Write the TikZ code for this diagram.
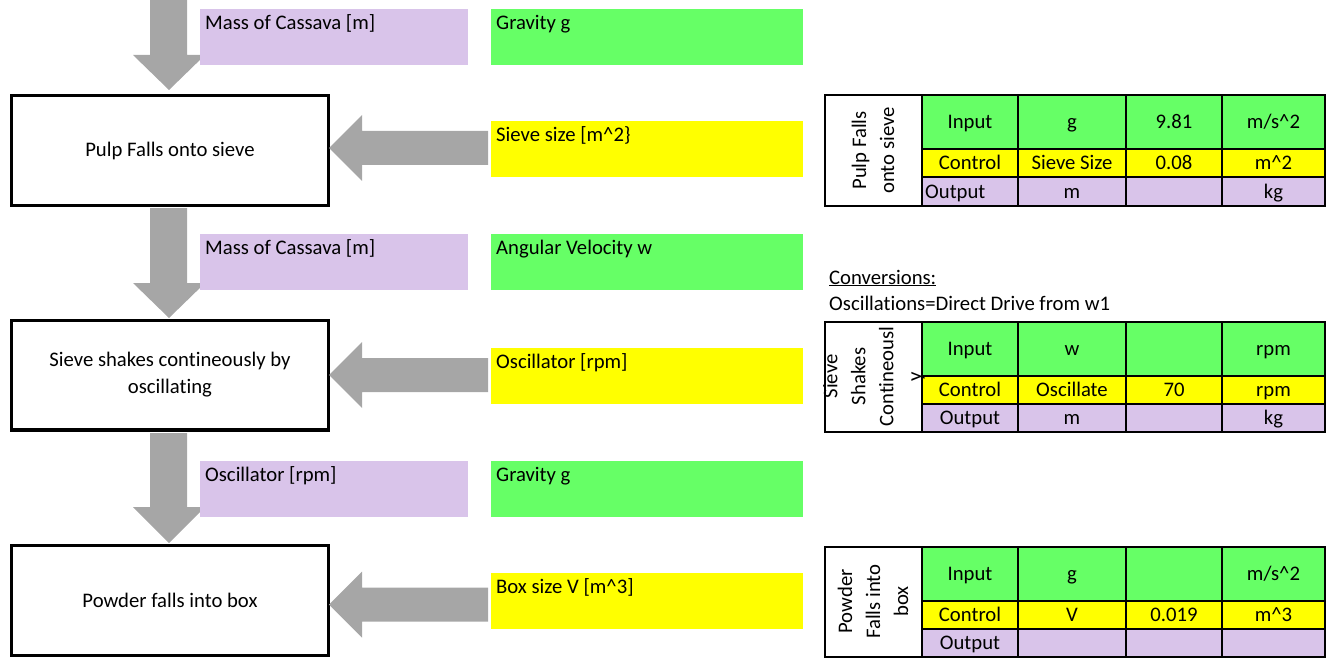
\documentclass[tikz,border=0pt]{standalone}
\usepackage{fontspec}
\setmainfont{Carlito}[Ligatures=NoCommon]
\definecolor{lav}{HTML}{D9C4EA}
\definecolor{grn}{HTML}{66FF66}
\definecolor{yel}{HTML}{FFFF00}
\definecolor{arrgray}{HTML}{A6A6A6}
\newcommand{\blockleft}[1]{%
  \fill[arrgray] (488,#1-17) -- (362,#1-17) -- (362,#1-33) -- (329,#1) -- (362,#1+33) -- (362,#1+17) -- (488,#1+17) -- cycle;}
\newcommand{\blockdown}[3]{%
  \fill[arrgray] (150,#1) -- (187,#1) -- (187,#2) -- (205,#2) -- (169,#3) -- (133,#2) -- (150,#2) -- cycle;}
\newcommand{\tgrid}[1]{%
  \fill[grn] (922,#1) rectangle (1325,#1+54);
  \fill[yel] (922,#1+54) rectangle (1325,#1+82);
  \fill[lav] (922,#1+82) rectangle (1325,#1+110);
  \draw[line width=2pt] (825,#1) rectangle (1325,#1+110);
  \draw[line width=2pt] (922,#1) -- (922,#1+110) (1018,#1) -- (1018,#1+110)
    (1126,#1) -- (1126,#1+110) (1222,#1) -- (1222,#1+110)
    (922,#1+54) -- (1325,#1+54) (922,#1+82) -- (1325,#1+82);}
\begin{document}
\begin{tikzpicture}[x=1pt,y=-1pt,font=\fontsize{20.7}{24}\selectfont,
  proc/.style={draw, line width=3.3pt, minimum width=316.7pt, minimum height=109.7pt,
    inner sep=0pt, outer sep=0pt, align=center, font=\fontsize{20.7}{27}\selectfont},
  lbox/.style={fill=lav, anchor=north west, inner sep=0pt, outer sep=0pt, minimum width=268pt, minimum height=56pt},
  gbox/.style={fill=grn, anchor=north west, inner sep=0pt, outer sep=0pt, minimum width=312pt, minimum height=56pt},
  ybox/.style={fill=yel, anchor=north west, inner sep=0pt, outer sep=0pt, minimum width=312pt, minimum height=56pt},
  btxt/.style={anchor=base west, inner sep=0pt},
  cell/.style={inner sep=0pt, text height=16pt, text depth=3pt},
  vlab/.style={rotate=90, align=center, inner sep=0pt, font=\fontsize{20.7}{28}\selectfont}]
\useasboundingbox (0,0) rectangle (1331,658);

% process boxes
\node[proc] (p1) at (170,150.5) {Pulp Falls onto sieve};
\node[proc] (p2) at (170,375) {Sieve shakes contineously by\\oscillating};
\node[proc] (p3) at (170,600.5) {Powder falls into box};

% block arrows
\blockdown{0}{55}{90}
\blockdown{208}{283}{318}
\blockdown{433}{507}{543}
\blockleft{148}
\blockleft{375}
\blockleft{604.5}

% coloured input boxes
\node[lbox] (m1) at (200,9) {};
\node[btxt] (m1t) at ([shift={(5,20.5)}]m1.north west) {Mass of Cassava [m]};
\node[gbox] (g1) at (491,9) {};
\node[btxt] (g1t) at ([shift={(5,20.5)}]g1.north west) {Gravity g};
\node[ybox] (s1) at (491,121) {};
\node[btxt] (s1t) at ([shift={(5,20.5)}]s1.north west) {Sieve size [m\textasciicircum 2\}};

\node[lbox] (m2) at (200,234) {};
\node[btxt] (m2t) at ([shift={(5,20.5)}]m2.north west) {Mass of Cassava [m]};
\node[gbox] (g2) at (491,234) {};
\node[btxt] (g2t) at ([shift={(5,20.5)}]g2.north west) {Angular Velocity w};
\node[ybox] (s2) at (491,348) {};
\node[btxt] (s2t) at ([shift={(5,20.5)}]s2.north west) {Oscillator [rpm]};

\node[lbox] (m3) at (200,461) {};
\node[btxt] (m3t) at ([shift={(5,20.5)}]m3.north west) {Oscillator [rpm]};
\node[gbox] (g3) at (491,461) {};
\node[btxt] (g3t) at ([shift={(5,20.5)}]g3.north west) {Gravity g};
\node[ybox] (s3) at (491,573) {};
\node[btxt] (s3t) at ([shift={(5,20.5)}]s3.north west) {Box size V [m\textasciicircum 3]};

% table 1
\tgrid{95.5}
\node[vlab] (l1) at (873,150.5) {Pulp Falls\\onto sieve};
\node[cell] (a11) at (970,122.5) {Input};
\node[cell] (a12) at (1072,122.5) {g};
\node[cell] (a13) at (1174,122.5) {9.81};
\node[cell] (a14) at (1273.5,122.5) {m/s\textasciicircum 2};
\node[cell] (a21) at (970,163.5) {Control};
\node[cell] (a22) at (1072,163.5) {Sieve Size};
\node[cell] (a23) at (1174,163.5) {0.08};
\node[cell] (a24) at (1273.5,163.5) {m\textasciicircum 2};
\node[cell,anchor=west] (a31) at (925,191.5) {Output};
\node[cell] (a32) at (1072,191.5) {m};
\node[cell] (a34) at (1273.5,191.5) {kg};

% conversions
\node[btxt] (conv) at (829,284) {\underline{Conversions:}};
\node[btxt] (osc) at (829,310) {Oscillations=Direct Drive from w1};

% table 2
\tgrid{321.5}
\node[vlab] (l2) at (874,376.5) {Sieve\hspace{30pt}\\Shakes\\Contineousl\\y};
\node[cell] (b11) at (970,348.5) {Input};
\node[cell] (b12) at (1072,348.5) {w};
\node[cell] (b14) at (1273.5,348.5) {rpm};
\node[cell] (b21) at (970,389.5) {Control};
\node[cell] (b22) at (1072,389.5) {Oscillate};
\node[cell] (b23) at (1174,389.5) {70};
\node[cell] (b24) at (1273.5,389.5) {rpm};
\node[cell] (b31) at (970,417.5) {Output};
\node[cell] (b32) at (1072,417.5) {m};
\node[cell] (b34) at (1273.5,417.5) {kg};

% table 3
\tgrid{546.5}
\node[vlab] (l3) at (873,601.5) {Powder\\Falls into\\box};
\node[cell] (c11) at (970,573.5) {Input};
\node[cell] (c12) at (1072,573.5) {g};
\node[cell] (c14) at (1273.5,573.5) {m/s\textasciicircum 2};
\node[cell] (c21) at (970,614.5) {Control};
\node[cell] (c22) at (1072,614.5) {V};
\node[cell] (c23) at (1174,614.5) {0.019};
\node[cell] (c24) at (1273.5,614.5) {m\textasciicircum 3};
\node[cell] (c31) at (970,642.5) {Output};
\end{tikzpicture}
\end{document}
